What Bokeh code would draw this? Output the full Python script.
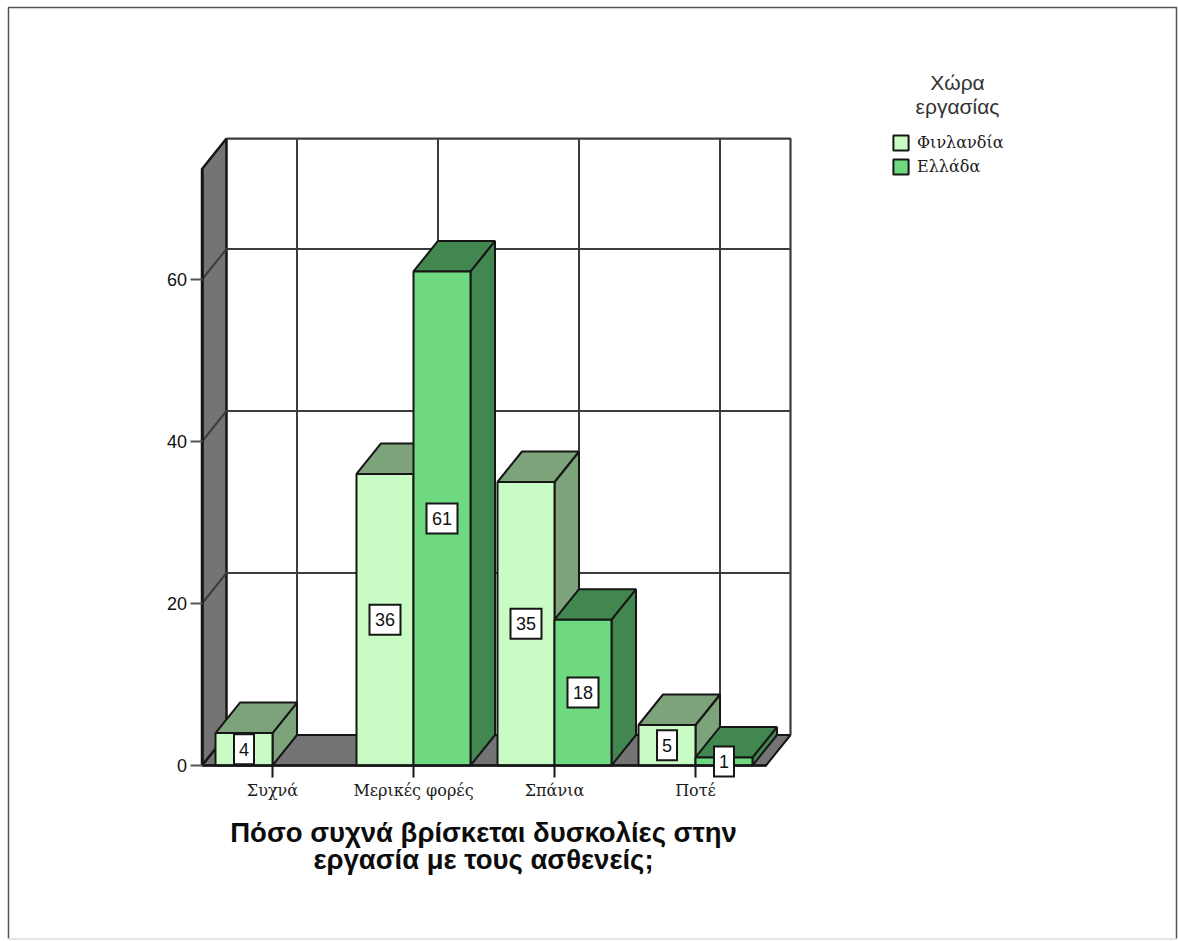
from bokeh.core.properties import value
from bokeh.embed import file_html
from bokeh.models import ColumnDataSource, FixedTicker, LabelSet, Legend, LegendItem, LinearAxis, Range1d
from bokeh.plotting import figure
from bokeh.resources import INLINE

# Survey answers, grouped by country of work
categories = ["Συχνά", "Μερικές φορές", "Σπάνια", "Ποτέ"]
finland = [4, 36, 35, 5]
greece = [None, 61, 18, 1]
series_names = ["Φινλανδία", "Ελλάδα"]
y_ticks = [0, 20, 40, 60]
x_title = "Πόσο συχνά βρίσκεται δυσκολίες στην\nεργασία με τους ασθενείς;"
legend_title = "Χώρα\nεργασίας"

WIDTH, HEIGHT = 1178, 941
CAT_PX, UNIT_PX = 141.0, 8.1          # pixels per category and per count
ORIGIN_X, ORIGIN_Y = 272.0, 765.0     # pixel position of the first category at count 0
DEPTH_X, DEPTH_Y = 24.5 / CAT_PX, 30.5 / UNIT_PX   # oblique depth of the 3D box
BAR_W = 57 / CAT_PX
Y_TOP = 77.4
X_LEFT, X_RIGHT = -0.5, 3.5

INK = "#161616"
GRID = "#3c3c3c"
WALL = "#747474"
FRONT = {"fi": "#c8fcc4", "gr": "#6fd982"}
SHADE = {"fi": "#7da37b", "gr": "#41874f"}
SERIF = "DejaVu Serif"
SANS = "Liberation Sans"


def px_x(x):
    return (x - ORIGIN_X) / CAT_PX


def px_y(y):
    return (ORIGIN_Y - y) / UNIT_PX


p = figure(
    width=WIDTH, height=HEIGHT, output_backend="svg", toolbar_location=None,
    x_range=Range1d(px_x(0), px_x(WIDTH)), y_range=Range1d(px_y(HEIGHT), px_y(0)),
    x_axis_location=None, y_axis_location=None, min_border=0,
)
p.grid.visible = False
p.outline_line_color = None
p.background_fill_color = "white"
p.border_fill_color = "white"

# Window-like border round the chart
p.line([px_x(8), px_x(8), px_x(1176), px_x(1176)], [px_y(938), px_y(7), px_y(7), px_y(938)],
       line_color="#555555", line_width=1.5)
p.line([px_x(8), px_x(1176)], [px_y(938.5), px_y(938.5)], line_color="#dddddd", line_width=1.5)

# Floor and left wall of the box
p.patch([X_LEFT, X_RIGHT, X_RIGHT + DEPTH_X, X_LEFT + DEPTH_X], [0, 0, DEPTH_Y, DEPTH_Y],
        fill_color=WALL, line_color=INK, line_width=2)
p.patch([X_LEFT, X_LEFT + DEPTH_X, X_LEFT + DEPTH_X, X_LEFT], [0, DEPTH_Y, Y_TOP, Y_TOP - DEPTH_Y],
        fill_color=WALL, line_color=INK, line_width=2.5)

# Back wall grid, carried across the left wall
for tick in y_ticks[1:]:
    p.line([X_LEFT, X_LEFT + DEPTH_X, X_RIGHT + DEPTH_X], [tick, tick + DEPTH_Y, tick + DEPTH_Y],
           line_color=GRID, line_width=2)
for i in range(len(categories)):
    p.line([i + DEPTH_X, i + DEPTH_X], [DEPTH_Y, Y_TOP], line_color=GRID, line_width=2)
p.line([X_LEFT + DEPTH_X, X_RIGHT + DEPTH_X, X_RIGHT + DEPTH_X], [Y_TOP, Y_TOP, DEPTH_Y],
       line_color=GRID, line_width=2.2)


def bar_faces(values, offset):
    rows = [(i + offset, v) for i, v in enumerate(values) if v is not None]
    left = [x for x, _ in rows]
    top = [v for _, v in rows]
    right = [x + BAR_W for x in left]
    side_xs = [[r, r + DEPTH_X, r + DEPTH_X, r] for r in right]
    side_ys = [[0, DEPTH_Y, t + DEPTH_Y, t] for t in top]
    top_xs = [[l, r, r + DEPTH_X, l + DEPTH_X] for l, r in zip(left, right)]
    top_ys = [[t, t, t + DEPTH_Y, t + DEPTH_Y] for t in top]
    centre = [x + BAR_W / 2 for x in left]
    return dict(centre=centre, top=top, side_xs=side_xs, side_ys=side_ys, top_xs=top_xs, top_ys=top_ys)


faces = {"fi": bar_faces(finland, -BAR_W), "gr": bar_faces(greece, 0)}

# Painted in layers: sides, then top faces, then the fronts
for key in faces:
    p.patches(faces[key]["side_xs"], faces[key]["side_ys"], fill_color=SHADE[key], line_color=INK, line_width=2)
for key in faces:
    p.patches(faces[key]["top_xs"], faces[key]["top_ys"], fill_color=SHADE[key], line_color=INK, line_width=2)
fronts = {}
for key in faces:
    fronts[key] = p.vbar(x=faces[key]["centre"], top=faces[key]["top"], bottom=0, width=BAR_W,
                         fill_color=FRONT[key], line_color=INK, line_width=2)

# Boxed value labels at mid-height of each bar
for key in faces:
    tops = faces[key]["top"]
    src = ColumnDataSource(dict(
        x=faces[key]["centre"], y=[t / 2 for t in tops], text=[str(t) for t in tops],
        w=[20 if t < 10 else 31 for t in tops],
    ))
    p.rect(x="x", y="y", width="w", width_units="screen", height=30, height_units="screen", source=src,
           fill_color="white", line_color=INK, line_width=2, line_join="miter", level="annotation")
    p.add_layout(LabelSet(x="x", y="y", text="text", source=src, text_align="center", text_baseline="middle",
                          text_font=value(SANS), text_font_size="18px", text_color="#111111",
                          level="annotation"))

y_axis = LinearAxis(fixed_location=X_LEFT, ticker=FixedTicker(ticks=y_ticks), bounds=(0, Y_TOP - DEPTH_Y))
y_axis.axis_line_color = INK
y_axis.axis_line_width = 2.5
y_axis.major_tick_line_color = "#555555"
y_axis.major_tick_line_width = 2
y_axis.major_tick_in = 0
y_axis.major_tick_out = 12
y_axis.minor_tick_line_color = None
y_axis.major_label_text_font = SANS
y_axis.major_label_text_font_size = "18px"
y_axis.major_label_text_color = "#111111"
y_axis.major_label_standoff = 3
p.add_layout(y_axis, "left")

x_axis = LinearAxis(fixed_location=0, ticker=FixedTicker(ticks=list(range(len(categories)))), bounds=(X_LEFT, X_RIGHT))
x_axis.major_label_overrides = {i: c for i, c in enumerate(categories)}
x_axis.axis_line_color = INK
x_axis.axis_line_width = 2.5
x_axis.major_tick_line_color = INK
x_axis.major_tick_line_width = 2
x_axis.major_tick_in = 0
x_axis.major_tick_out = 12
x_axis.minor_tick_line_color = None
x_axis.major_label_text_font = SERIF
x_axis.major_label_text_font_size = "16px"
x_axis.major_label_text_color = "#1a1a1a"
x_axis.major_label_standoff = 3
p.add_layout(x_axis, "below")

# Axis title, set as two centred lines
p.text([px_x(483)], [px_y(845.5)], text=[x_title], text_align="center", text_baseline="middle",
       text_font=value(SANS), text_font_style="bold", text_font_size="27.5px",
       text_color="#0c0c0c", text_line_height=0.87)

# Legend heading and legend
p.text([px_x(957)], [px_y(94)], text=[legend_title], text_align="center", text_baseline="middle",
       text_font=value(SANS), text_font_size="21px", text_color="#333333", text_line_height=1.05)
legend = Legend(
    items=[LegendItem(label=series_names[0], renderers=[fronts["fi"]]),
           LegendItem(label=series_names[1], renderers=[fronts["gr"]])],
    location=(891, HEIGHT - 176), orientation="vertical", background_fill_alpha=0, border_line_alpha=0,
    glyph_width=19, glyph_height=19, label_height=19, spacing=5, padding=0, margin=0, label_standoff=7,
    label_text_font=SERIF, label_text_font_size="16px", label_text_color="#1a1a1a",
)
p.add_layout(legend)

open("out.html", "w").write(file_html(p, INLINE))
